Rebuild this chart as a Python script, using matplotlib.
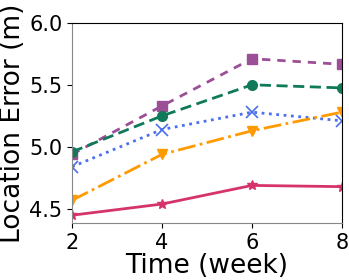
import numpy as np
import matplotlib.pyplot as plt

weeks = [2, 4, 6, 8]
err_square = [4.94, 5.33, 5.71, 5.665]
err_circle = [4.96, 5.25, 5.50, 5.475]
err_cross = [4.84, 5.14, 5.28, 5.21]
err_tri = [4.57, 4.94, 5.13, 5.28]
err_star = [4.45, 4.54, 4.69, 4.68]

fig = plt.figure(figsize=(3.49, 2.80), dpi=100)
ax = fig.add_axes([72/349, 1 - 223.3/280, 270/349, (223.3 - 22.7)/280])

ax.plot(weeks, err_square, color="#9b4f96", linestyle=(0, (3, 2.5)), marker="s", markersize=7, linewidth=2)
ax.plot(weeks, err_circle, color="#0f7a5a", linestyle=(0, (4, 2)), marker="o", markersize=7, linewidth=2)
ax.plot(weeks, err_cross, color="#4a6ff0", linestyle=":", marker="x", markersize=8, markeredgewidth=1.2, linewidth=2)
ax.plot(weeks, err_tri, color="#ff9a00", linestyle="-.", marker="v", markersize=7, linewidth=2)
ax.plot(weeks, err_star, color="#d6336c", linestyle="-", marker="*", markersize=7, linewidth=2)

ax.set_xlim(2, 8)
ax.set_ylim(4.385, 6.0)
ax.set_xticks([2, 4, 6, 8])
ax.set_yticks([4.5, 5.0, 5.5, 6.0])
ax.tick_params(labelsize=15)
ax.set_xlabel("Time (week)", fontsize=19, labelpad=0)
ax.set_ylabel("Location Error (m)", fontsize=19, labelpad=2)
ax.spines["left"].set_color("#888888")
ax.spines["bottom"].set_color("#888888")

plt.savefig("out.png", dpi=100)
